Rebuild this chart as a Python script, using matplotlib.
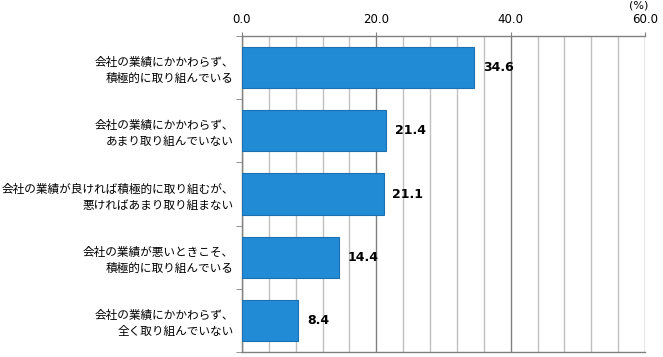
import matplotlib
matplotlib.use('Agg')
import matplotlib.pyplot as plt
import numpy as np

plt.rcParams['font.family'] = ['Noto Sans CJK JP', 'DejaVu Sans']

labels = ['会社の業績にかかわらず、\n積極的に取り組んでいる',
          '会社の業績にかかわらず、\nあまり取り組んでいない',
          '会社の業績が良ければ積極的に取り組むが、\n悪ければあまり取り組まない',
          '会社の業績が悪いときこそ、\n積極的に取り組んでいる',
          '会社の業績にかかわらず、\n全く取り組んでいない']
values = [34.6, 21.4, 21.1, 14.4, 8.4]

fig = plt.figure(figsize=(6.63, 3.57), dpi=100)
ax = fig.add_axes([0.365, 0.014, 0.608, 0.885])

y = np.arange(len(values))
ax.barh(y, values, height=0.65, color='#228bd6', edgecolor='#1a70b0', linewidth=0.8, zorder=3)
for yi, v in zip(y, values):
    ax.text(v + 1.3, yi, '%.1f' % v, va='center', ha='left', fontsize=9,
            fontweight='bold', family='DejaVu Sans')

ax.set_xlim(0, 60)
ax.set_ylim(len(values) - 0.5, -0.5)
ax.xaxis.tick_top()
ax.set_xticks([0, 20, 40, 60])
ax.set_xticklabels(['0.0', '20.0', '40.0', '60.0'], family='DejaVu Sans', fontsize=8.5)
ax.set_xticks(np.arange(0, 61, 4), minor=True)
ax.tick_params(axis='x', which='major', length=3, color='#808080', pad=4)
ax.tick_params(axis='x', which='minor', length=0)
ax.grid(axis='x', which='major', color='#808080', linewidth=1, zorder=0)
ax.grid(axis='x', which='minor', color='#c0c0c0', linewidth=1, zorder=0)

ax.set_yticks(y)
ax.set_yticklabels(labels, fontsize=8.4, linespacing=1.3)
ax.set_yticks(np.arange(-0.5, len(values), 1), minor=True)
ax.tick_params(axis='y', which='major', length=0, pad=6)
ax.tick_params(axis='y', which='minor', length=4, color='#808080')
for lab in ax.get_yticklabels():
    lab.set_horizontalalignment('right')

ax.spines['right'].set_visible(False)
for s in ['top', 'bottom', 'left']:
    ax.spines[s].set_color('#808080')
    ax.spines[s].set_linewidth(1)

fig.text(0.963, 0.999, '(%)', ha='center', va='top', fontsize=8, family='DejaVu Sans')

fig.savefig('out.png', dpi=100)
